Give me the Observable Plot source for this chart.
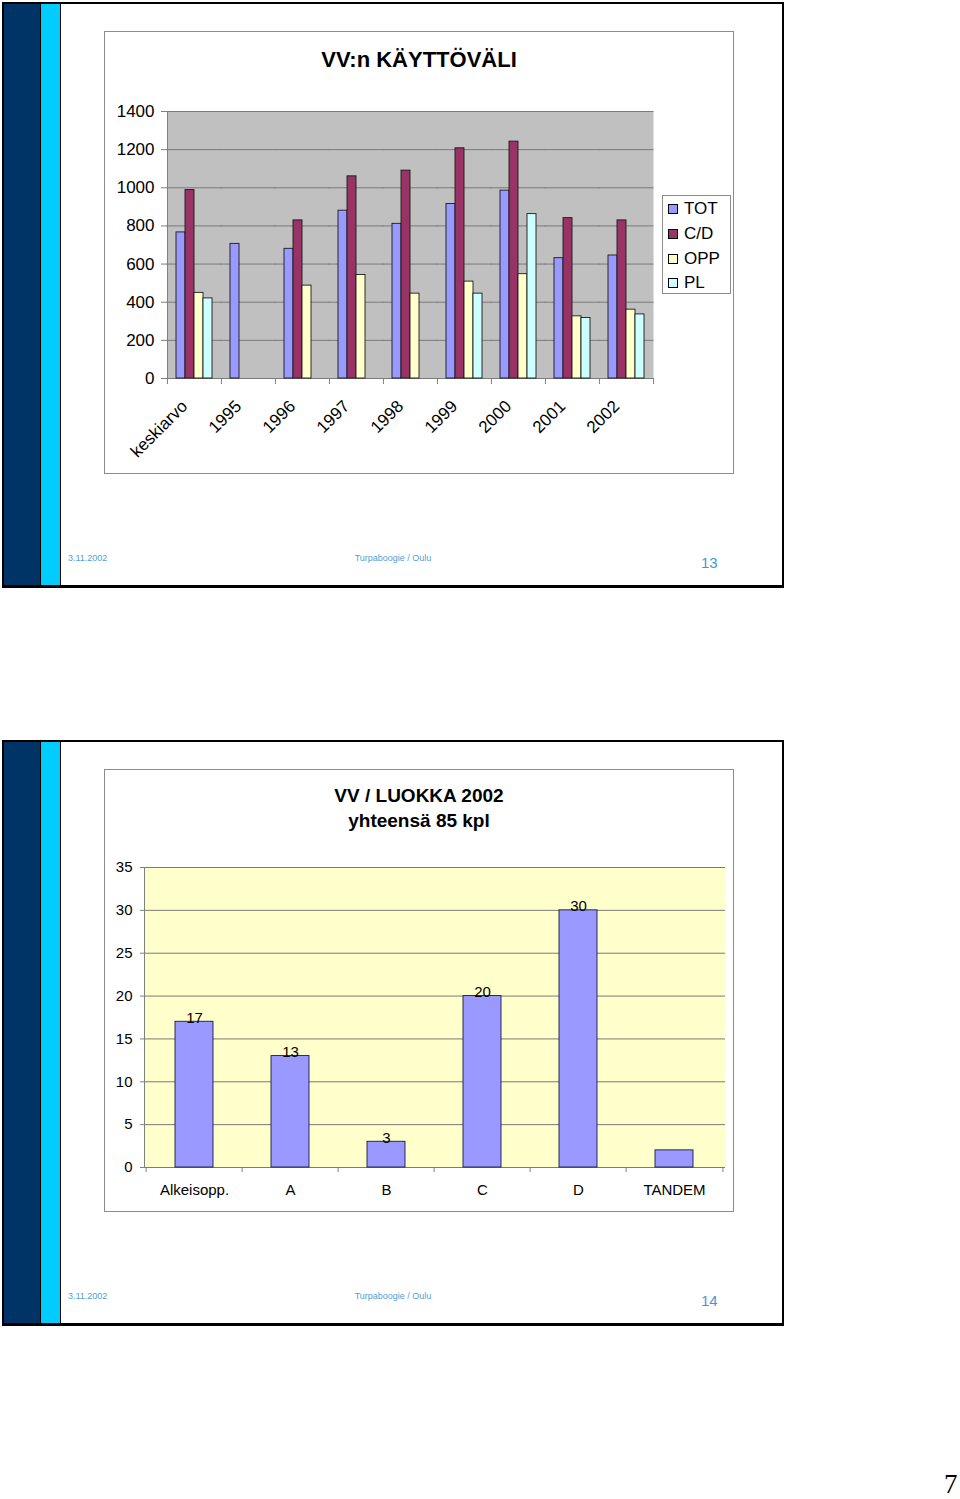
<!DOCTYPE html>
<html><head><meta charset="utf-8">
<script src="https://cdn.jsdelivr.net/npm/d3@7"></script>
<script src="https://cdn.jsdelivr.net/npm/@observablehq/plot@0.6"></script>
<style>
html,body{margin:0;padding:0;background:#fff}
body{width:960px;height:1499px;position:relative;overflow:hidden;font-family:"Liberation Sans",Arial,sans-serif;color:#000}
.a{position:absolute}
.title{position:absolute;font-weight:bold;text-align:center;white-space:nowrap}
.foot{position:absolute;font-family:"Liberation Sans Narrow","Liberation Sans",Arial,sans-serif;font-size:9px;color:#4f9fd5;white-space:nowrap}
.legend{position:absolute;border:1px solid #8c8c8c;background:#fff;box-sizing:border-box;font-size:17px}
.legend .row{position:absolute;left:5px;height:20px;display:flex;align-items:center}
.legend .sw{width:8px;height:8px;border:1px solid #000;margin-right:6px}
svg{position:absolute}
</style>
</head><body>
<script>
// ---- Chart 1 data: VV:n KÄYTTÖVÄLI ----
const categories = ["keskiarvo","1995","1996","1997","1998","1999","2000","2001","2002"];
const seriesNames = ["TOT","C/D","OPP","PL"];
const totValues = [766, 706, 680, 880, 811, 915, 985, 631, 645];
const cdValues  = [988, null, 829, 1060, 1090, 1207, 1242, 841, 829];
const oppValues = [449, null, 487, 543, 445, 508, 547, 326, 361];
const plValues  = [420, null, null, null, null, 445, 862, 317, 336];
const seriesColors = ["#9999ff","#993366","#ffffcc","#ccffff"];
const yTicks1 = [0,200,400,600,800,1000,1200,1400];

// ---- Chart 2 data: VV / LUOKKA 2002 ----
const classes = ["Alkeisopp.","A","B","C","D","TANDEM"];
const classCounts = [17, 13, 3, 20, 30, 2];
const classLabels = ["17","13","3","20","30",""];
const yTicks2 = [0,5,10,15,20,25,30,35];

const body = document.body;
function div(cls, style, text){
  const d = document.createElement("div");
  if (cls) d.className = cls;
  d.setAttribute("style", style);
  if (text != null) d.textContent = text;
  body.appendChild(d);
  return d;
}

function slideFrame(T, pageNo){
  div("a", `left:2px;top:${T+2}px;width:782px;height:586px;border:2px solid #000;border-bottom-width:3px;box-sizing:border-box;`);
  div("a", `left:4px;top:${T+4}px;width:36px;height:581px;background:#003366;`);
  div("a", `left:40px;top:${T+4}px;width:1px;height:581px;background:#000;`);
  div("a", `left:41px;top:${T+4}px;width:19px;height:581px;background:#00ccff;`);
  div("a", `left:60px;top:${T+4}px;width:1px;height:581px;background:#000;`);
  div("a", `left:104px;top:${T+31}px;width:630px;height:443px;border:1px solid #8c8c8c;box-sizing:border-box;background:#fff;`);
  div("foot", `left:68px;top:${T+553}px;`, "3.11.2002");
  div("foot", `left:293px;width:200px;text-align:center;top:${T+553}px;`, "Turpaboogie / Oulu");
  div("a", `left:701px;top:${T+554}px;font-size:15px;color:#3d9ad6;`, String(pageNo));
}

// ---------- Slide 1 ----------
slideFrame(0, 13);
div("title", "left:104px;width:630px;top:47px;font-size:22px;", "VV:n KÄYTTÖVÄLI");

const rows1 = [];
const seriesArrays = [totValues, cdValues, oppValues, plValues];
categories.forEach((c, i) => {
  seriesNames.forEach((s, j) => {
    const v = seriesArrays[j][i];
    if (v != null) rows1.push({cat: c, series: s, value: v});
  });
});

const W1 = 629, H1 = 442, ML1 = 62, MR1 = 80, MT1 = 80, MB1 = 95;
const step1 = (W1 - ML1 - MR1) / categories.length;
const chart1 = Plot.plot({
  width: W1, height: H1,
  marginLeft: ML1, marginRight: MR1, marginTop: MT1, marginBottom: MB1,
  style: {background: "transparent", fontFamily: "Liberation Sans, Arial, sans-serif", color: "#000"},
  fx: {domain: categories, padding: 0, label: null},
  x: {domain: seriesNames, paddingInner: 0, paddingOuter: 0.77, axis: null},
  y: {domain: [0, 1400], label: null},
  color: {domain: seriesNames, range: seriesColors},
  marks: [
    Plot.frame({fill: "#c0c0c0", stroke: null, facet: "super"}),
    Plot.gridY({ticks: yTicks1, stroke: "#7a7a7a", strokeOpacity: 1, strokeWidth: 1, insetLeft: -0.5, insetRight: -0.5}),
    Plot.barY(rows1, {fx: "cat", x: "series", y: "value", fill: "series", stroke: "#1a1a1a", strokeWidth: 0.9}),
    Plot.frame({anchor: "left", facet: "super", stroke: "#808080"}),
    Plot.axisY({ticks: yTicks1, tickFormat: "d", tickSize: 6, tickPadding: 7, fontSize: 17, stroke: "#808080", label: null}),
    Plot.axisFx({anchor: "bottom", tickSize: 6, tickFormat: () => "", dx: -step1 / 2, stroke: "#808080", label: null}),
    Plot.axisFx({anchor: "bottom", ticks: [categories[categories.length - 1]], tickSize: 6, tickFormat: () => "", dx: step1 / 2, stroke: "#808080", label: null}),
    Plot.axisFx({anchor: "bottom", tickSize: 0, tickPadding: 25, tickRotate: -45, dx: -10, fontSize: 17, label: null})
  ]
});
chart1.style.left = "104px";
chart1.style.top = "31px";
body.appendChild(chart1);

// legend
const lg = div("legend", "left:662px;top:195px;width:69px;height:99px;");
seriesNames.forEach((s, i) => {
  const r = document.createElement("div");
  r.className = "row";
  r.style.top = (3 + i * 24.8) + "px";
  const sw = document.createElement("span");
  sw.className = "sw";
  sw.style.background = seriesColors[i];
  const t = document.createElement("span");
  t.textContent = s;
  r.appendChild(sw); r.appendChild(t);
  lg.appendChild(r);
});

// ---------- Slide 2 ----------
const T2 = 738;
slideFrame(T2, 14);
const t2 = div("title", `left:104px;width:630px;top:${T2+45}px;font-size:19px;line-height:25px;`, "");
t2.innerHTML = "VV / LUOKKA 2002<br>yhteensä 85 kpl";

const rows2 = classes.map((c, i) => ({cls: c, value: classCounts[i], label: classLabels[i]}));
const W2 = 629, H2 = 442, ML2 = 40, MR2 = 8, MT2 = 98, MB2 = 44;
const step2 = (W2 - ML2 - MR2) / classes.length;
const chart2 = Plot.plot({
  width: W2, height: H2,
  marginLeft: ML2, marginRight: MR2, marginTop: MT2, marginBottom: MB2,
  style: {background: "transparent", fontFamily: "Liberation Sans, Arial, sans-serif", color: "#000"},
  x: {domain: classes, paddingInner: 0.6, paddingOuter: 0.3, label: null},
  y: {domain: [0, 35], label: null},
  marks: [
    Plot.frame({fill: "#ffffcc", stroke: null}),
    Plot.gridY({ticks: yTicks2, stroke: "#7a7a7a", strokeOpacity: 1, strokeWidth: 1}),
    Plot.frame({anchor: "left", stroke: "#808080"}),
    Plot.barY(rows2, {x: "cls", y: "value", fill: "#9999ff", stroke: "#1a1a40", strokeWidth: 0.9}),
    Plot.text(rows2.filter(d => d.label), {x: "cls", y: "value", text: "label", dy: -4, fontSize: 15, fill: "#000"}),
    Plot.axisY({ticks: yTicks2, tickSize: 4, tickPadding: 8, fontSize: 15, stroke: "#808080", label: null}),
    Plot.axisX({tickSize: 5, tickFormat: () => "", dx: -step2 / 2, stroke: "#808080", label: null}),
    Plot.axisX({ticks: [classes[classes.length - 1]], tickSize: 5, tickFormat: () => "", dx: step2 / 2, stroke: "#808080", label: null}),
    Plot.axisX({tickSize: 0, tickPadding: 17, fontSize: 15, label: null})
  ]
});
chart2.style.left = "104px";
chart2.style.top = (T2 + 31) + "px";
body.appendChild(chart2);

// page number
div("a", "left:944px;top:1471px;font-family:'Liberation Serif','DejaVu Serif',serif;font-size:27px;line-height:27px;", "7");
</script>
</body></html>
